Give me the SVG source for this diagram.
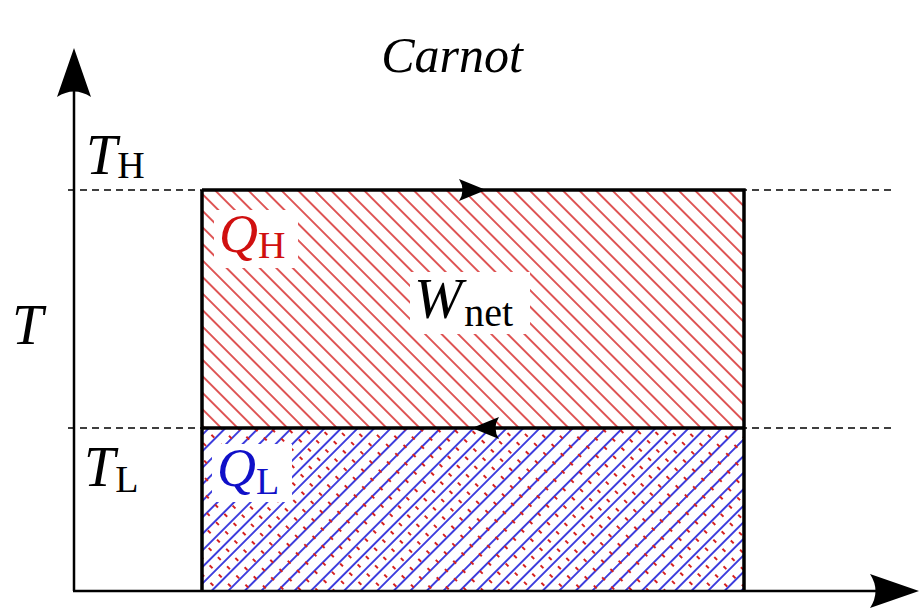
<svg xmlns="http://www.w3.org/2000/svg" width="922" height="608" viewBox="0 0 922 608">
<style>
.lbl{font-family:"Liberation Serif","DejaVu Serif",serif;font-style:italic}
.sub{font-family:"Liberation Serif","DejaVu Serif",serif;font-style:normal}
.dash{stroke:#000;stroke-width:1.5;stroke-dasharray:7 5;fill:none}
.edge{stroke:#000;stroke-width:3.5;fill:none}
.axis{stroke:#000;stroke-width:2.5;fill:none}
</style>
<defs>
<pattern id="redH" patternUnits="userSpaceOnUse" width="11.7" height="11.7" patternTransform="rotate(45)">
<line x1="0" y1="5.85" x2="11.7" y2="5.85" stroke="#d42020" stroke-width="1.5"/>
</pattern>
<pattern id="blueH" patternUnits="userSpaceOnUse" width="11.7" height="11.7" patternTransform="rotate(-45)">
<line x1="0" y1="5.85" x2="11.7" y2="5.85" stroke="#2020d8" stroke-width="1.7"/>
</pattern>
<pattern id="redD" patternUnits="userSpaceOnUse" width="13" height="11.7" patternTransform="rotate(45)">
<line x1="2" y1="5.85" x2="6" y2="5.85" stroke="#d42020" stroke-width="2"/>
</pattern>
</defs>
<g id="title"><text class="lbl" x="452" y="72" font-size="50" text-anchor="middle">Carnot</text></g>
<g id="region-high">
<rect x="202" y="190" width="542" height="238" fill="url(#redH)"/>
</g>
<g id="region-low">
<rect x="202" y="428" width="542" height="162" fill="url(#blueH)"/>
<rect x="202" y="428" width="542" height="162" fill="url(#redD)"/>
</g>
<g id="connectors">
<line class="dash" x1="68" y1="190" x2="892" y2="190"/>
<line class="dash" x1="68" y1="428" x2="892" y2="428"/>
<path class="edge" d="M202,190 H744 V590 M744,428 H202 M202,190 V590"/>
<line class="axis" x1="74" y1="591" x2="74" y2="80"/>
<line class="axis" x1="73" y1="591" x2="885" y2="591"/>
<path d="M74,48 L91,97 Q74,86 57,97 Z" fill="#000"/>
<path d="M919,591 L870,574 Q881,591 870,608 Z" fill="#000"/>
<path d="M486,190 L459,179 Q466,190 459,201 Z" fill="#000"/>
<path d="M472,428 L499,417 Q492,428 499,439 Z" fill="#000"/>
</g>
<g id="label-QH">
<rect x="214" y="210" width="84" height="58" fill="#fff"/>
<text x="219" y="252" font-size="54" fill="#d01010"><tspan class="lbl">Q</tspan><tspan class="sub" font-size="38" dy="6">H</tspan></text>
</g>
<g id="label-W">
<rect x="410" y="272" width="120" height="62" fill="#fff"/>
<text x="414" y="318" font-size="58" fill="#000"><tspan class="lbl">W</tspan><tspan class="sub" font-size="40" dy="8" dx="2">net</tspan></text>
</g>
<g id="label-QL">
<rect x="212" y="444" width="80" height="58" fill="#fff"/>
<text x="217" y="486" font-size="54" fill="#1010c8"><tspan class="lbl">Q</tspan><tspan class="sub" font-size="38" dy="8">L</tspan></text>
</g>
<g id="label-TH"><text x="86" y="174" font-size="56"><tspan class="lbl">T</tspan><tspan class="sub" font-size="38" dy="4">H</tspan></text></g>
<g id="label-TL"><text x="84" y="486" font-size="56"><tspan class="lbl">T</tspan><tspan class="sub" font-size="38" dy="6">L</tspan></text></g>
<g id="label-T"><text class="lbl" x="12" y="344" font-size="56">T</text></g>
</svg>
